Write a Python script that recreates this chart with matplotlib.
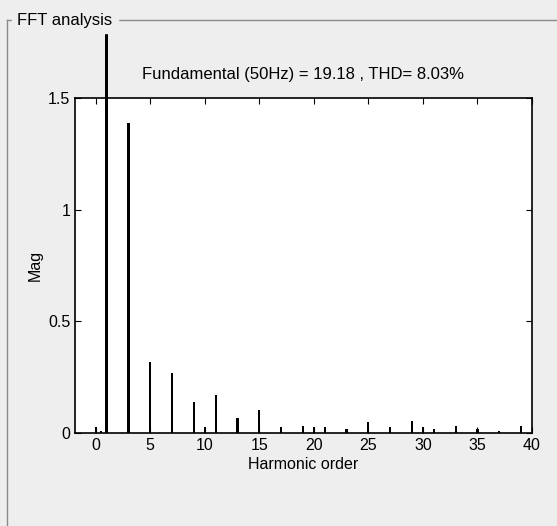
import matplotlib.pyplot as plt
from matplotlib.lines import Line2D

# harmonic order and magnitude
harmonics = [0, 0.5, 1, 3, 5, 7, 9, 10, 11, 13, 15, 17, 19, 20, 21, 23, 25, 27, 29, 30, 31, 33, 35, 37, 39]
mags = [0.025, 0.008, 1.81, 1.39, 0.32, 0.27, 0.141, 0.025, 0.171, 0.069, 0.102, 0.025, 0.03, 0.025,
        0.025, 0.018, 0.048, 0.025, 0.054, 0.025, 0.018, 0.033, 0.02, 0.01, 0.033]
xticks = [0, 5, 10, 15, 20, 25, 30, 35, 40]
yticks = [0, 0.5, 1, 1.5]
yticklabels = ["0", "0.5", "1", "1.5"]

plt.rcParams['font.family'] = ['Liberation Sans', 'DejaVu Sans']

fig = plt.figure(figsize=(5.57, 5.26), dpi=100)
fig.patch.set_facecolor('#eeeeee')

# group box "FFT analysis"
fig.add_artist(Line2D([7/557, 1.0], [1 - 20/526, 1 - 20/526], color='#8a8a8a', lw=1))
fig.add_artist(Line2D([7/557, 7/557], [0, 1 - 20/526], color='#8a8a8a', lw=1))
fig.text(17/557, 1 - 20/526, "FFT analysis", ha='left', va='center', fontsize=12,
         backgroundcolor='#eeeeee')

ax = fig.add_axes([75/557, 1 - 433/526, 457/557, 335/526])
ax.set_facecolor('white')

widths = [0.28 if h == 1 else 0.2 for h in harmonics]
bars = ax.bar(harmonics, mags, width=widths, color='black', linewidth=0)
for b in bars:
    b.set_clip_on(False)

ax.set_xlim(-1.9, 40)
ax.set_ylim(0, 1.5)
ax.set_xticks(xticks)
ax.set_yticks(yticks)
ax.set_yticklabels(yticklabels)
ax.tick_params(direction='in', top=True, right=True, length=4, labelsize=11.5)
for s in ax.spines.values():
    s.set_linewidth(1.2)

ax.set_xlabel("Harmonic order", fontsize=11.5, labelpad=3)
ax.set_ylabel("Mag", fontsize=11.5)
ax.set_title("Fundamental (50Hz) = 19.18 , THD= 8.03%", fontsize=12, pad=14)

fig.savefig("out.png", dpi=100, facecolor=fig.get_facecolor())
